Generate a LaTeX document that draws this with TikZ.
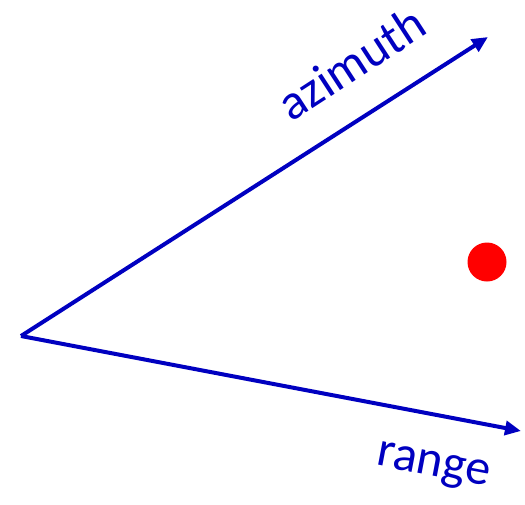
\documentclass[tikz,border=0pt]{standalone}
\usepackage{fontspec}
\setmainfont{Carlito}
\usetikzlibrary{arrows.meta}
\definecolor{axisblue}{RGB}{0,0,192}
\begin{document}
\begin{tikzpicture}[x=1pt,y=-1pt,
  axisline/.style={draw=axisblue,line width=4pt,-{Triangle[length=16pt,width=14pt]}},
  axislabel/.style={text=axisblue,font=\fontsize{50}{54}\selectfont,inner sep=0pt}]
\useasboundingbox (0,0) rectangle (525,504);
\coordinate (o) at (21,336);
\coordinate (az) at (488,37);
\coordinate (rg) at (521,431);
\draw[axisline] (o) -- (az);
\draw[axisline] (o) -- (rg);
\node[axislabel,rotate=33] (azl) at (351,63) {azimuth};
\node[axislabel,rotate=-10.8] (rgl) at (433,468) {range};
\fill[red] (487,262) circle (19.5) node (dot) {};
\end{tikzpicture}
\end{document}
